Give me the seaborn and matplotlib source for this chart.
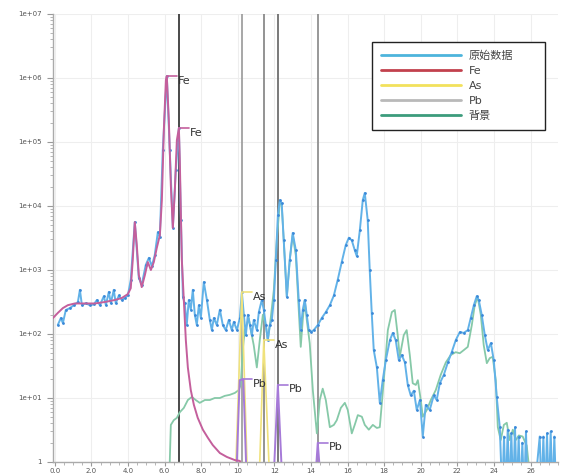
import numpy as np
import pandas as pd
import matplotlib
matplotlib.use("Agg")
import matplotlib.pyplot as plt
from matplotlib.lines import Line2D
from matplotlib.ticker import FixedLocator, LogLocator, NullFormatter, MultipleLocator
import seaborn as sns

# ---------------- data (energy keV, counts) ----------------
raw_x = [0.16, 0.33, 0.44, 0.6, 0.82, 1.04, 1.26, 1.37, 1.48, 1.69, 1.91, 2.13, 2.3, 2.46, 2.68, 2.79,
         2.95, 3.06, 3.22, 3.33, 3.5, 3.66, 3.83, 3.99, 4.15, 4.37, 4.59, 4.75, 4.97, 5.14, 5.3, 5.46,
         5.63, 5.74, 5.9, 6.12, 6.28, 6.45, 6.61, 6.78, 6.89, 7.0, 7.1, 7.21, 7.32, 7.43, 7.54, 7.65,
         7.76, 7.87, 7.98, 8.14, 8.31, 8.47, 8.58, 8.69, 8.85, 9.02, 9.18, 9.34, 9.51, 9.67, 9.78, 9.95,
         10.11, 10.22, 10.33, 10.44, 10.55, 10.66, 10.77, 10.87, 11.04, 11.15, 11.31, 11.42, 11.53, 11.64,
         11.75, 11.86, 11.97, 12.08, 12.19, 12.3, 12.4, 12.51, 12.68, 12.84, 13.0, 13.17, 13.33, 13.44,
         13.55, 13.66, 13.77, 13.88, 13.99, 14.15, 14.37, 14.59, 14.81, 15.03, 15.25, 15.46, 15.68, 15.9,
         16.07, 16.23, 16.39, 16.5, 16.67, 16.83, 16.94, 17.1, 17.21, 17.32, 17.43, 17.6, 17.76, 17.92,
         18.09, 18.31, 18.47, 18.63, 18.8, 18.96, 19.13, 19.29, 19.45, 19.62, 19.78, 19.95, 20.11, 20.27,
         20.49, 20.71, 20.87, 21.04, 21.26, 21.48, 21.69, 21.91, 22.13, 22.35, 22.57, 22.73, 22.9, 23.06,
         23.17, 23.33, 23.5, 23.66, 23.83, 23.99, 24.15, 24.32, 24.45, 24.55, 24.65, 24.75, 24.85, 24.95,
         25.05, 25.15, 25.25, 25.35, 25.45, 25.55, 25.65, 25.75, 25.85, 26.2, 26.5, 26.6, 26.7, 26.8,
         26.9, 27.0, 27.1, 27.2, 27.3, 27.4]
raw_y = [138, 178, 148, 237, 254, 282, 316, 490, 282, 302, 282, 290, 340, 282, 390, 282,
         455, 302, 490, 302, 400, 340, 365, 400, 700, 5600, 750, 590, 1200, 1550, 1150, 1700,
         3900, 3300, 75000, 1070000, 75000, 4550, 36000, 165000, 6000, 380, 300, 138, 340, 240, 490, 200,
         138, 282, 178, 650, 340, 166, 115, 178, 138, 240, 138, 115, 166, 115, 155, 115,
         178, 450, 200, 96, 200, 138, 96, 166, 115, 220, 340, 240, 138, 80,
         138, 166, 340, 1450, 7200, 12400, 11000, 2900, 380, 1450, 3800, 2050, 340, 115,
         240, 340, 200, 115, 108, 115, 138, 178, 220, 282, 400, 700, 1330, 2450,
         3200, 2900, 2050, 1650, 4200, 12400, 16000, 6000, 1000, 213, 56, 30, 8.4, 19,
         39, 80, 104, 80, 39, 47, 36, 16, 11, 13, 6.5, 9.3, 2.5, 7.8,
         6.5, 11, 9.3, 17, 23, 36, 52, 80, 107, 104, 115, 178, 282, 390,
         340, 200, 96, 56, 72, 39, 10.4, 3.5, 0.3, 2.5, 0.3, 3.2, 0.3, 2.8,
         0.3, 3.5, 0.3, 2.5, 0.3, 2.0, 0.3, 3.0, 0.3, 0.3, 2.5, 0.3, 2.5, 0.3,
         2.8, 0.3, 3.0, 0.3, 2.5, 0.3]

bg_x = [6.25, 6.34, 6.5, 6.67, 6.83, 7.05, 7.27, 7.49, 7.7, 7.92, 8.2, 8.47, 8.74, 9.02, 9.29, 9.56,
        9.84, 10.05, 10.16, 10.27, 10.38, 10.49, 10.6, 10.71, 10.87, 11.04, 11.2, 11.37, 11.53, 11.64,
        11.8, 11.97, 12.13, 12.3, 12.4, 12.57, 12.68, 12.84, 13.0, 13.17, 13.33, 13.44, 13.55, 13.66,
        13.77, 13.93, 14.1, 14.32, 14.48, 14.64, 14.81, 15.03, 15.25, 15.41, 15.63, 15.85, 16.01, 16.23,
        16.39, 16.56, 16.78, 16.94, 17.16, 17.38, 17.6, 17.76, 17.98, 18.2, 18.42, 18.58, 18.74, 18.85,
        19.07, 19.23, 19.4, 19.56, 19.73, 19.84, 20.0, 20.11, 20.33, 20.55, 20.82, 21.09, 21.37, 21.64,
        21.91, 22.13, 22.35, 22.57, 22.79, 22.95, 23.11, 23.28, 23.44, 23.61, 23.77, 23.93, 24.1, 24.21,
        24.37, 24.54, 24.7, 24.86, 25.03, 25.19, 25.36, 25.57, 25.79, 26.0]
bg_y = [0.5, 3.8, 4.5, 4.9, 6.0, 7.0, 9.3, 10.4, 9.3, 8.4, 9.3, 9.3, 10, 10, 10.8, 11.2,
        12, 13.3, 16, 56, 115, 138, 178, 115, 67, 30, 80, 200, 138, 80,
        178, 490, 2900, 11500, 10500, 1450, 380, 1450, 3500, 1700, 240, 63, 166, 340,
        166, 72, 13.3, 2.8, 9.3, 14, 9.3, 3.5, 3.8, 4.5, 7.0, 8.4, 6.5, 2.8,
        3.8, 5.4, 5.1, 3.8, 3.2, 3.8, 3.4, 3.5, 19, 115, 220, 237, 96, 44,
        96, 115, 47, 17, 16, 19, 9.3, 5.1, 6.5, 9.3, 13.3, 23, 36, 47,
        52, 50, 56, 63, 138, 282, 380, 200, 67, 35, 42, 44, 19, 3.5,
        2.2, 3.8, 4.1, 2.2, 3.2, 2.2, 2.6, 2.5, 1.8, 0.5]

fe_x = [-0.1, 0.16, 0.44, 0.71, 1.09, 1.64, 2.19, 2.73, 3.28, 3.66, 3.99, 4.15, 4.26, 4.37, 4.48, 4.59,
        4.75, 4.92, 5.08, 5.25, 5.41, 5.57, 5.74, 5.85, 5.96, 6.07, 6.12, 6.23, 6.34, 6.45, 6.56, 6.67,
        6.78, 6.83, 6.94, 7.05, 7.16, 7.27, 7.43, 7.6, 7.81, 8.09, 8.36, 8.63, 9.02, 9.4, 9.84, 10.11, 10.5]
fe_y = [178, 213, 254, 282, 300, 300, 300, 316, 340, 365, 420, 520, 1450, 5600, 2450, 830,
        540, 830, 1330, 1000, 1330, 2200, 3500, 12400, 160000, 930000, 1070000, 220000, 21000, 4550, 17800, 107000,
        165000, 52000, 1450, 340, 80, 30, 13.3, 7.8, 4.9, 3.2, 2.4, 1.84, 1.38, 1.2, 1.07, 1.04, 0.5]

as_x = [9.75, 9.9, 10.22, 10.5, 10.6, 11.1, 11.2, 11.42, 11.7, 11.8]
as_y = [0.5, 1.0, 450, 1.0, 0.5, 0.5, 1.0, 80, 1.0, 0.5]

pb_x = [9.8, 9.95, 10.1, 10.3, 10.45, 10.6, 11.9, 12.0, 12.19, 12.38, 12.5, 14.2, 14.3, 14.37, 14.45, 14.55]
pb_y = [0.5, 1.0, 19, 19.5, 1.0, 0.5, 0.5, 1.0, 16, 1.0, 0.5, 0.5, 1.0, 2.0, 1.0, 0.5]

# peak markers (element, energy, height)
peak_el = ["Fe", "Fe", "As", "As", "Pb", "Pb", "Pb"]
peak_x = [6.12, 6.78, 10.22, 11.42, 10.22, 12.19, 14.37]
peak_y = [1070000, 165000, 450, 80, 19.5, 16, 2.0]

vline_x = [6.78, 10.22, 11.42, 12.19, 14.37]
vline_c = ["#3a3a3a", "#a0a0a0", "#8a8a8a", "#6e6e6e", "#909090"]

xtick_vals = [0, 2, 4, 6, 8, 10, 12, 14, 16, 18, 20, 22, 24, 26]
xtick_labels = ["0.0", "2.0", "4.0", "6.0", "8.0", "10", "12", "14", "16", "18", "20", "22", "24", "26"]
ytick_vals = [1, 1e1, 1e2, 1e3, 1e4, 1e5, 1e6, 1e7]
ytick_labels = ["1", "1e+01", "1e+02", "1e+03", "1e+04", "1e+05", "1e+06", "1e+07"]

legend_labels = ["原始数据", "Fe", "As", "Pb", "背景"]
legend_colors = ["#4db4dc", "#c2414d", "#f2e15c", "#b9b9b9", "#3c9c7c"]

# ---------------- plot ----------------
sns.set_style("white")
plt.rcParams['font.family'] = ['DejaVu Sans', 'Noto Sans CJK SC']

fig = plt.figure(figsize=(5.75, 4.75), dpi=100)
ax = fig.add_axes([53/575, 13/475, 505/575, 448/475])

el_color = {"Fe": "#c45f9c", "As": "#f0e27c", "Pb": "#a67ad8"}

df_bg = pd.DataFrame({"E": bg_x, "C": bg_y})
df_raw = pd.DataFrame({"E": raw_x, "C": raw_y})
df_fe = pd.DataFrame({"E": fe_x, "C": fe_y})
df_as = pd.DataFrame({"E": as_x, "C": as_y})
df_pb = pd.DataFrame({"E": pb_x, "C": pb_y})

for xv, c in zip(vline_x, vline_c):
    ax.axvline(xv, color=c, lw=1.3, zorder=1)

sns.lineplot(data=df_bg, x="E", y="C", ax=ax, color="#86c9a8", lw=1.3, estimator=None, sort=False, zorder=2)
sns.lineplot(data=df_raw, x="E", y="C", ax=ax, color="#62b2e8", lw=1.4, estimator=None, sort=False,
             marker="o", markersize=2.0, markeredgewidth=0, markerfacecolor="#3a88d8", zorder=3)
sns.lineplot(data=df_as, x="E", y="C", ax=ax, color=el_color["As"], lw=1.2, estimator=None, sort=False, zorder=4)
sns.lineplot(data=df_pb, x="E", y="C", ax=ax, color=el_color["Pb"], lw=1.4, estimator=None, sort=False, zorder=4)
sns.lineplot(data=df_fe, x="E", y="C", ax=ax, color=el_color["Fe"], lw=1.4, estimator=None, sort=False, zorder=5)

for el, px, py in zip(peak_el, peak_x, peak_y):
    ax.plot([px, px + 0.55], [py, py], color=el_color[el], lw=1.2, zorder=6)
    ax.text(px + 0.6, py * 0.85, el, fontsize=8, color="#333333", va="center", ha="left", zorder=7)

ax.set_yscale("log")
ax.set_ylim(1, 1e7)
ax.set_xlim(-0.1, 27.5)
ax.set_xlabel("")
ax.set_ylabel("")

ax.xaxis.set_major_locator(FixedLocator(xtick_vals))
ax.set_xticklabels(xtick_labels)
ax.xaxis.set_minor_locator(MultipleLocator(0.5))
ax.yaxis.set_major_locator(FixedLocator(ytick_vals))
ax.set_yticklabels(ytick_labels)
ax.yaxis.set_minor_locator(LogLocator(base=10, subs=np.arange(2, 10)))
ax.yaxis.set_minor_formatter(NullFormatter())

ax.tick_params(axis="x", which="major", length=3, width=0.8, color="#999999",
               labelsize=5, labelcolor="#555555", direction="out", bottom=True, pad=1)
ax.tick_params(axis="y", which="major", length=4, width=0.8, color="#999999",
               labelsize=5, labelcolor="#555555", direction="out", left=True, pad=4)
ax.tick_params(axis="both", which="minor", length=2, width=0.6, color="#aaaaaa",
               direction="out", bottom=True, left=True)

ax.grid(True, which="major", color="#eeeeee", lw=0.8, zorder=0)
for s in ["top", "right"]:
    ax.spines[s].set_visible(False)
for s in ["left", "bottom"]:
    ax.spines[s].set_color("#aaaaaa")
    ax.spines[s].set_linewidth(1.0)

handles = [Line2D([0], [0], color=c, lw=2) for c in legend_colors]
leg = ax.legend(handles, legend_labels, loc="upper left",
                bbox_to_anchor=(0.632, 0.741, 0.343, 0.1965), mode="expand",
                fontsize=8, frameon=True, fancybox=False, edgecolor="#222222", framealpha=1,
                handlelength=7.2, handletextpad=0.7, borderpad=0.8, labelspacing=0.45,
                borderaxespad=0)
leg.get_frame().set_linewidth(1.0)
for t in leg.get_texts():
    t.set_color("#444444")
    t.set_family(['DejaVu Sans', 'Noto Sans CJK SC'])

fig.savefig("out.png", dpi=100)
